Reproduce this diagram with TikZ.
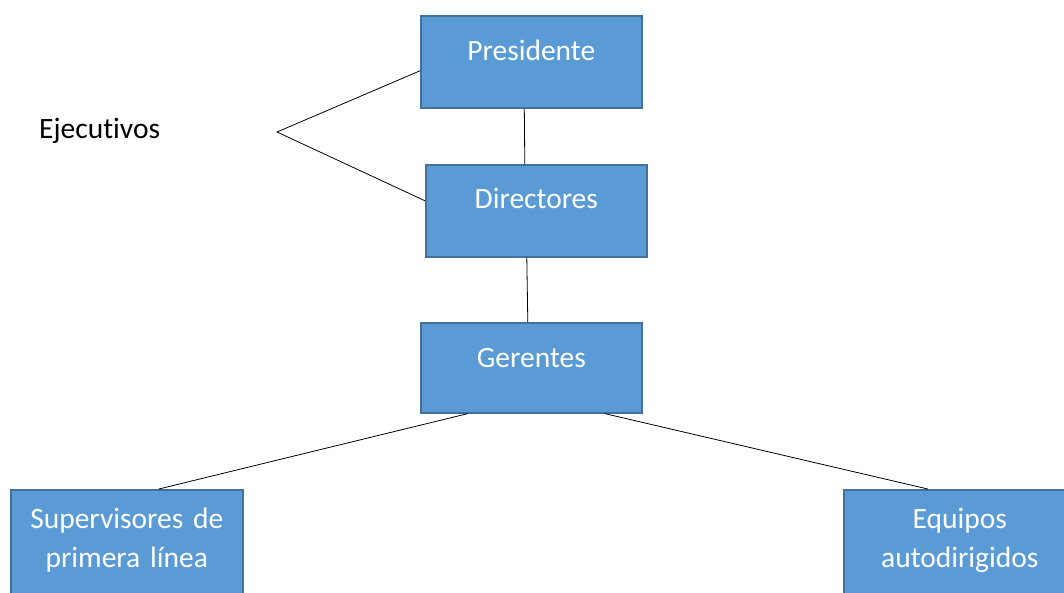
\documentclass[tikz,border=0pt]{standalone}
\usepackage{fontspec}
\setmainfont{Carlito}[Ligatures={NoCommon}]
\usepackage{color}
\definecolor{boxfill}{HTML}{5B9BD5}
\definecolor{boxline}{HTML}{41719C}
\usetikzlibrary{positioning}

\tikzset{
  orgbox/.style={draw=boxline, line width=1.6pt, fill=boxfill, text=white,
                 inner sep=0pt, align=center, anchor=north west,
                 font=\fontsize{29.5}{39}\selectfont},
  orgline/.style={draw=black, line width=0.8pt}
}

\begin{document}
\begin{tikzpicture}[x=1pt, y=-1pt]
                \clip (0,0) rectangle (1064,592);
                \node [orgbox, text width=221pt, text height=45pt, text depth=47pt] (pres) at (420,15) {Presidente};
                \node [orgbox, text width=221pt, text height=44pt, text depth=48pt] (dir) at (425,164) {Directores};
                \node [orgbox, text width=221pt, text height=45pt, text depth=45pt] (ger) at (420,322) {Gerentes};
                \node [orgbox, text width=232pt, text height=39pt, text depth=80pt] (sup) at (10,489) {Supervisores de\\primera línea};
                \node [orgbox, text width=232pt, text height=39pt, text depth=80pt] (equ) at (843,489) {Equipos\\autodirigidos};
                \node [anchor=base west, inner sep=0pt, font=\fontsize{29.5}{39}\selectfont] (ejec) at (39,138) {Ejecutivos};
                \coordinate (apex) at (277,132);
                % lineas
                \draw [orgline] ([xshift=-7pt]pres.south) -- ([xshift=-11.5pt]dir.north);
                \draw [orgline] ([xshift=-9.5pt]dir.south) -- ([xshift=-3.5pt]ger.north);
                \draw [orgline] ([xshift=-63.5pt]ger.south) -- ([xshift=32pt]sup.north);
                \draw [orgline] ([xshift=73.5pt]ger.south) -- ([xshift=-32pt]equ.north);
                \draw [orgline] ([yshift=-9pt]pres.west) -- (apex) -- ([yshift=10pt]dir.west);
            \end{tikzpicture}
\end{document}
